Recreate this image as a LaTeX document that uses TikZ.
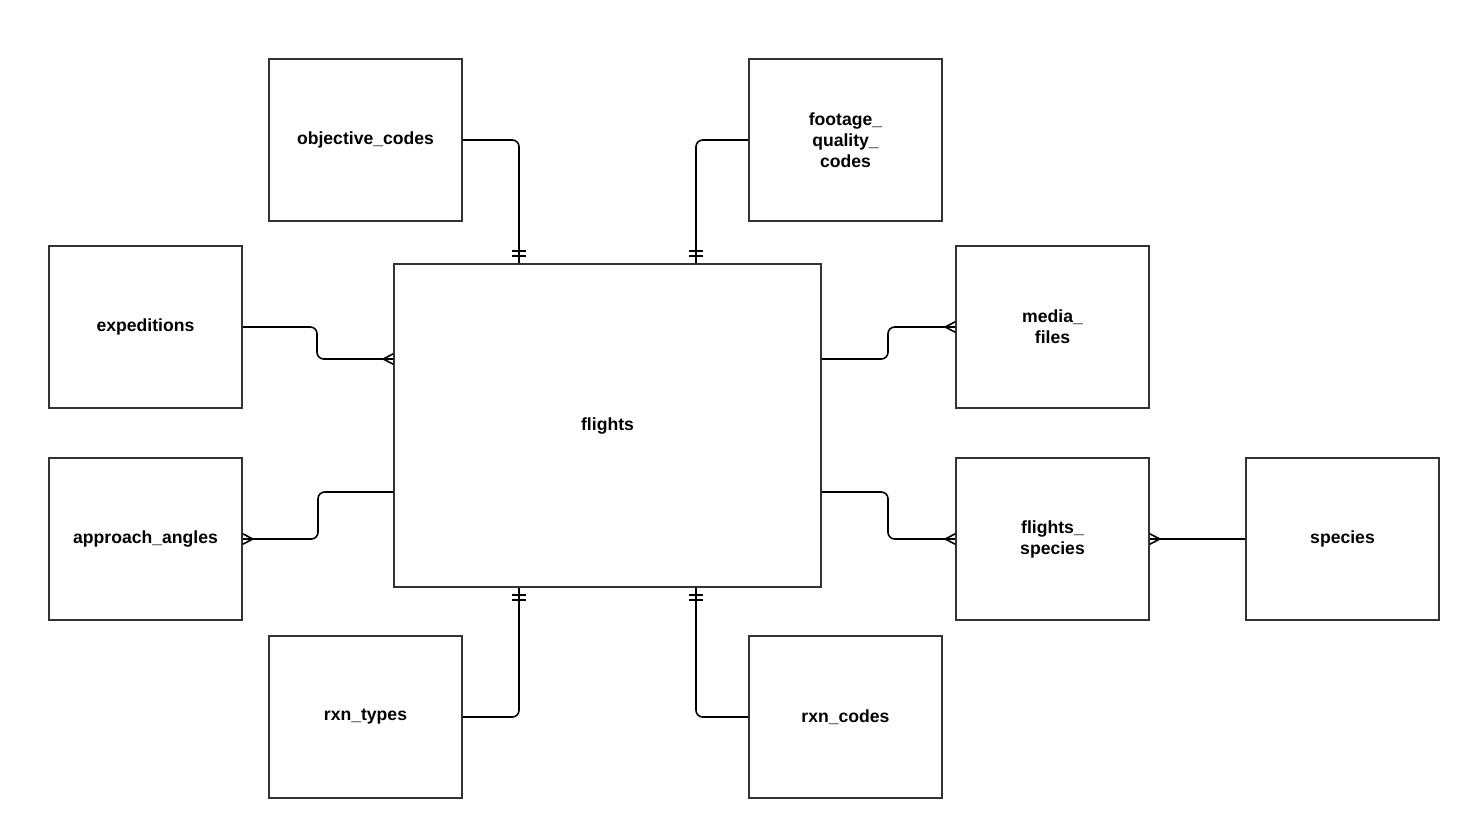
\documentclass[tikz,border=0pt]{standalone}
\usepackage{fontspec}
\setmainfont{Liberation Sans}
\usepackage{tikz}
\pgfdeclarearrow{
  name = Crow,
  setup code = {
    \pgfarrowssettipend{0pt}
    \pgfarrowssetlineend{0pt}
    \pgfarrowssetbackend{-7.5pt}
    \pgfarrowsupperhullpoint{0pt}{3.9pt}
    \pgfarrowsupperhullpoint{-7.5pt}{0pt}
  },
  drawing code = {
    \pgfpathmoveto{\pgfqpoint{0pt}{3.9pt}}
    \pgfpathlineto{\pgfqpoint{-7.5pt}{0pt}}
    \pgfpathlineto{\pgfqpoint{0pt}{-3.9pt}}
    \pgfusepathqstroke
  }
}
\pgfdeclarearrow{
  name = TwoBar,
  setup code = {
    \pgfarrowssettipend{0pt}
    \pgfarrowssetlineend{0pt}
    \pgfarrowssetbackend{-9pt}
    \pgfarrowsupperhullpoint{0pt}{4.9pt}
    \pgfarrowsupperhullpoint{-9pt}{4.9pt}
  },
  drawing code = {
    \pgfpathmoveto{\pgfqpoint{-5.25pt}{4.9pt}}
    \pgfpathlineto{\pgfqpoint{-5.25pt}{-4.9pt}}
    \pgfpathmoveto{\pgfqpoint{-9pt}{4.9pt}}
    \pgfpathlineto{\pgfqpoint{-9pt}{-4.9pt}}
    \pgfusepathqstroke
  }
}
\tikzstyle{entity} = [draw=black!80, line width=1.2pt, rectangle, align=center, text centered, font=\fontsize{13.2}{15.75}\selectfont\bfseries, minimum width=144.75pt, minimum height=121.5pt, inner sep=0pt]
\tikzstyle{hub} = [entity, minimum width=320.25pt, minimum height=242.25pt]
\tikzstyle{link} = [draw, line width=1.2pt, rounded corners=5pt]

\begin{document}
\begin{tikzpicture}[x=0.75pt, y=-0.75pt]
        \useasboundingbox (0,0) rectangle (1459,817);
        \node[hub] (flights) at (607.5,425.5) {flights};
        \node[entity] (objective) at (365.5,140) {objective\_codes};
        \node[entity] (footage) at (845.5,140) {footage\_\\quality\_\\codes};
        \node[entity] (expeditions) at (145.5,327) {expeditions};
        \node[entity] (media) at (1052.5,327) {media\_\\files};
        \node[entity] (approach) at (145.5,539) {approach\_angles};
        \node[entity] (fspecies) at (1052.5,539) {flights\_\\species};
        \node[entity] (species) at (1342.5,539) {species};
        \node[entity] (rxntypes) at (365.5,717) {rxn\_types};
        \node[entity] (rxncodes) at (845.5,717) {rxn\_codes};
        \path[link, -TwoBar] (objective.east) -| (519,0 |- flights.north);
        \path[link, -TwoBar] (footage.west) -| (696,0 |- flights.north);
        \path[link, TwoBar-] (519,0 |- flights.south) |- (rxntypes.east);
        \path[link, TwoBar-] (696,0 |- flights.south) |- (rxncodes.west);
        \path[link, -Crow] (expeditions.east) -| (317,359) -- (flights.west |- 0,359);
        \path[link, Crow-] (approach.east) -| (318,492) -- (flights.west |- 0,492);
        \path[link, -Crow] (flights.east |- 0,359) -| (888,327) -- (media.west);
        \path[link, -Crow] (flights.east |- 0,492) -| (888,539) -- (fspecies.west);
        \path[link, Crow-] (fspecies.east) -- (species.west);
    \end{tikzpicture}
\end{document}
